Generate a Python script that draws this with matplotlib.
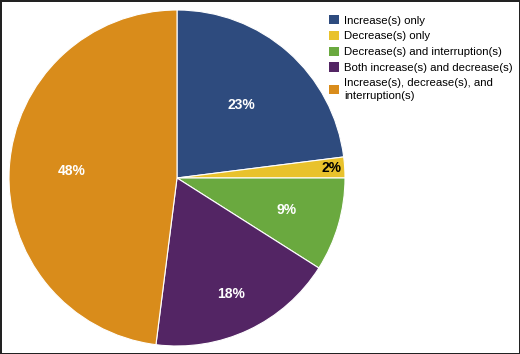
import numpy as np
import matplotlib.pyplot as plt
from matplotlib.patches import Patch

labels = ['Increase(s) only', 'Decrease(s) only', 'Decrease(s) and interruption(s)',
          'Both increase(s) and decrease(s)', 'Increase(s), decrease(s), and\ninterruption(s)']
values = [23, 2, 9, 18, 48]
colors = ['#2E4B7E', '#E9C22C', '#6AA93F', '#532564', '#D98C1B']
label_colors = ['white', 'black', 'white', 'white', 'white']
label_dist = [0.58, 0.92, 0.68, 0.76, 0.63]

fig = plt.figure(figsize=(5.2, 3.54), dpi=100)
fig.patch.set_edgecolor('#222222')
fig.patch.set_linewidth(2)

ax = fig.add_axes([9/520, 8/354, 336/520, 336/354])
wedges, _ = ax.pie(values, colors=colors, startangle=90, counterclock=False,
                   wedgeprops=dict(linewidth=0.8, edgecolor='white'))
ax.set_xlim(-1.0, 1.0)
ax.set_ylim(-1.0, 1.0)
ax.set_aspect('equal')

for w, v, c, d in zip(wedges, values, label_colors, label_dist):
    ang = np.deg2rad((w.theta1 + w.theta2) / 2)
    ax.text(d * np.cos(ang), d * np.sin(ang), f'{v}%', ha='center', va='center',
            color=c, fontsize=10, fontweight='bold', family='Liberation Sans')

handles = [Patch(facecolor=c, edgecolor='none') for c in colors]
leg = fig.legend(handles, labels, loc='upper left', bbox_to_anchor=(321/520, 1 - 7/354),
                 frameon=False, handlelength=0.9, handleheight=0.9,
                 handletextpad=0.4, labelspacing=0.45, borderpad=0.2,
                 prop=dict(family='Liberation Sans', size=8.2))
for t in leg.get_texts():
    t.set_linespacing(1.35)

fig.savefig('out.png', dpi=100)
